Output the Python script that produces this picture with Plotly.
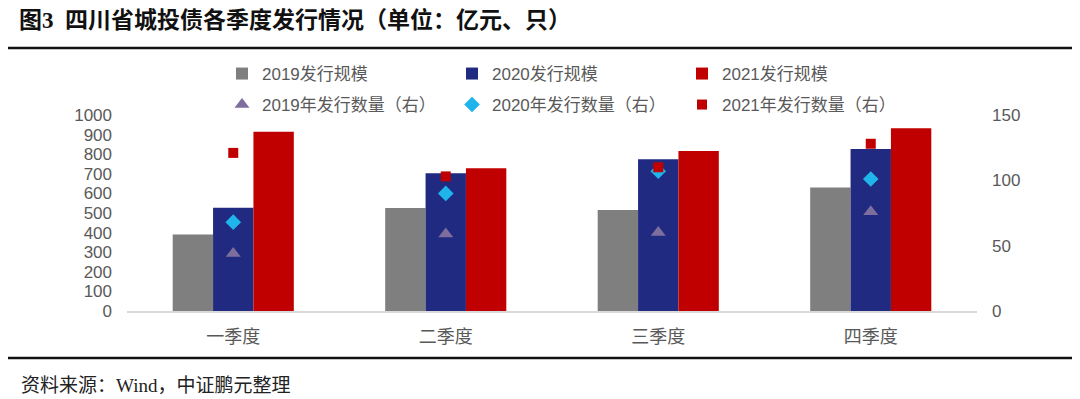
import plotly.graph_objects as go

quarters = ["一季度", "二季度", "三季度", "四季度"]
scale_2019 = [390, 525, 515, 630]
scale_2020 = [527, 703, 774, 826]
scale_2021 = [915, 728, 816, 932]
count_2019 = [44, 59, 60, 76]
count_2020 = [68, 90, 107, 101]
count_2021 = [121, 103, 110, 128]

left_ticks = list(range(0, 1001, 100))
right_ticks = [0, 50, 100, 150]

# the page body has an 8px margin, so the figure is drawn 8px smaller
OFF = 8
W, H = 1080 - OFF, 399 - OFF
GRAY = "#595959"
FONT = "Liberation Sans, Noto Sans CJK SC, sans-serif"
SERIF = "Liberation Serif, Noto Sans CJK SC, serif"

fig = go.Figure()
fig.add_trace(go.Bar(x=quarters, y=scale_2019, name="2019发行规模",
                     marker=dict(color="#7F7F7F", line=dict(width=0)), legend="legend"))
fig.add_trace(go.Bar(x=quarters, y=scale_2020, name="2020发行规模",
                     marker=dict(color="#202A80", line=dict(width=0)), legend="legend"))
fig.add_trace(go.Bar(x=quarters, y=scale_2021, name="2021发行规模",
                     marker=dict(color="#C00000", line=dict(width=0)), legend="legend"))
fig.add_trace(go.Scatter(x=quarters, y=count_2019, name="2019年发行数量（右）", yaxis="y2",
                         mode="markers", marker=dict(symbol="triangle-up", size=13, color="#7E6E9E"),
                         legend="legend2"))
fig.add_trace(go.Scatter(x=quarters, y=count_2020, name="2020年发行数量（右）", yaxis="y2",
                         mode="markers", marker=dict(symbol="diamond", size=12, color="#1FB5EA"),
                         legend="legend2"))
fig.add_trace(go.Scatter(x=quarters, y=count_2021, name="2021年发行数量（右）", yaxis="y2",
                         mode="markers", marker=dict(symbol="square", size=10, color="#C00000"),
                         legend="legend2"))

plot_l, plot_r, plot_t, plot_b = 127 - OFF, 977 - OFF, 115 - OFF, 311 - OFF
pw, ph = plot_r - plot_l, plot_b - plot_t


def px(x):
    return (x - OFF - plot_l) / pw


def py(y):
    return (plot_b - (y - OFF)) / ph


fig.update_layout(
    width=W, height=H,
    margin=dict(l=plot_l, r=W - plot_r, t=plot_t, b=H - plot_b, autoexpand=False),
    paper_bgcolor="white", plot_bgcolor="white",
    barmode="group", bargap=0.43, bargroupgap=0,
    font=dict(family=FONT, size=17, color=GRAY),
    showlegend=True,
    legend=dict(orientation="h", xref="container", yref="container",
                x=214 / W, y=1 - (74 - OFF) / H, xanchor="left", yanchor="middle",
                entrywidth=185, itemwidth=30, font=dict(size=17, color=GRAY),
                bgcolor="rgba(0,0,0,0)", traceorder="normal"),
    legend2=dict(orientation="h", xref="container", yref="container",
                 x=214 / W, y=1 - (105 - OFF) / H, xanchor="left", yanchor="middle",
                 entrywidth=185, itemwidth=30, font=dict(size=17, color=GRAY),
                 bgcolor="rgba(0,0,0,0)", traceorder="normal"),
    xaxis=dict(showgrid=False, showline=True, linecolor="#D9D9D9", linewidth=1.5,
               ticks="", tickfont=dict(size=18, color=GRAY), ticklabelstandoff=9,
               zeroline=False),
    yaxis=dict(range=[0, 1000], tickvals=left_ticks, showgrid=False, showline=False,
               zeroline=False, ticks="", tickfont=dict(size=17, color=GRAY),
               ticklabelstandoff=14),
    yaxis2=dict(range=[0, 150], tickvals=right_ticks, overlaying="y", side="right",
                showgrid=False, showline=False, zeroline=False, ticks="",
                tickfont=dict(size=17, color=GRAY), ticklabelstandoff=14),
    annotations=[
        dict(text="<b>图3  四川省城投债各季度发行情况（单位：亿元、只）</b>",
             xref="paper", yref="paper", x=px(17), y=py(20),
             xanchor="left", yanchor="middle",
             showarrow=False, font=dict(family=SERIF, size=23, color="#111111")),
        dict(text="资料来源：Wind，中证鹏元整理",
             xref="paper", yref="paper", x=px(19), y=py(385),
             xanchor="left", yanchor="middle",
             showarrow=False, font=dict(family=SERIF, size=19, color="#222222")),
    ],
    shapes=[
        dict(type="line", xref="paper", yref="paper",
             x0=px(5), x1=px(1080), y0=py(48), y1=py(48),
             line=dict(color="#111111", width=2.5)),
        dict(type="line", xref="paper", yref="paper",
             x0=px(5), x1=px(1080), y0=py(358), y1=py(358),
             line=dict(color="#111111", width=2.5)),
    ],
)

fig.write_html("out.html")
